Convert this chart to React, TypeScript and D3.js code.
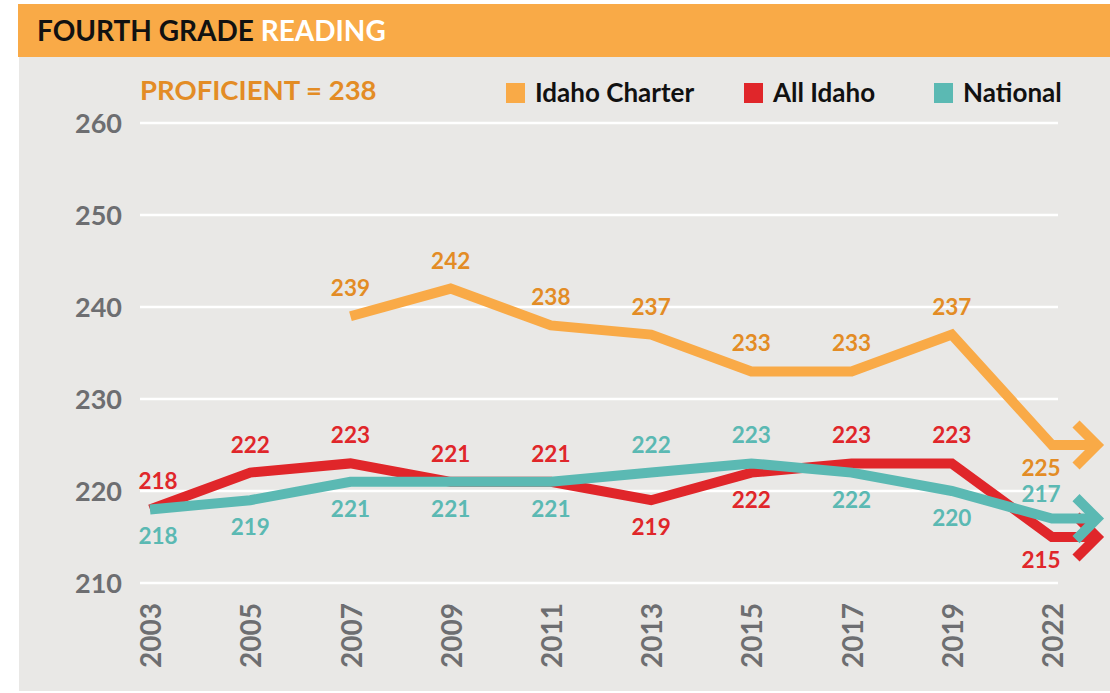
import React from "react";
import * as d3 from "d3";

const years = ["2003", "2005", "2007", "2009", "2011", "2013", "2015", "2017", "2019", "2022"];
const yTicks = [210, 220, 230, 240, 250, 260];

const charterValues: (number | null)[] = [null, null, 239, 242, 238, 237, 233, 233, 237, 225];
const allIdahoValues: number[] = [218, 222, 223, 221, 221, 219, 222, 223, 223, 215];
const nationalValues: number[] = [218, 219, 221, 221, 221, 222, 223, 222, 220, 217];

// label placement: 1 = above the line, -1 = below
const charterPlace = [1, 1, 1, 1, 1, 1, 1, 1, 1, -1];
const allIdahoPlace = [1, 1, 1, 1, 1, -1, -1, 1, 1, -1];
const nationalPlace = [-1, -1, -1, -1, -1, 1, 1, -1, -1, 1];

const seriesNames = ["Idaho Charter", "All Idaho", "National"];

const W = 1110;
const H = 693;
const FONT = "Lato, 'Open Sans', sans-serif";

const C_ORANGE = "#f9aa47";
const C_ORANGE_TEXT = "#e38c25";
const C_RED = "#e0262a";
const C_TEAL = "#5bb9b3";
const C_GRAY = "#6d6e71";
const C_BG = "#e9e8e6";

export default function App() {
  const x = d3.scalePoint<string>().domain(years).range([150, 1052]);
  const y = d3.scaleLinear().domain([210, 260]).range([583, 123]);

  const series = [
    { name: seriesNames[0], values: charterValues, place: charterPlace, line: C_ORANGE, text: C_ORANGE_TEXT },
    { name: seriesNames[1], values: allIdahoValues as (number | null)[], place: allIdahoPlace, line: C_RED, text: C_RED },
    { name: seriesNames[2], values: nationalValues as (number | null)[], place: nationalPlace, line: C_TEAL, text: C_TEAL },
  ];

  const lineGen = d3
    .line<[number, number]>()
    .x((d) => d[0])
    .y((d) => d[1]);

  const arrowLen = 45;
  const arm = 21;

  const legendItems = [
    { label: seriesNames[0], color: C_ORANGE, x: 506 },
    { label: seriesNames[1], color: C_RED, x: 744 },
    { label: seriesNames[2], color: C_TEAL, x: 934 },
  ];

  return (
    <svg
      width={W}
      height={H}
      style={{ position: "absolute", left: 0, top: 0, display: "block" }}
      fontFamily={FONT}
    >
      <rect x={0} y={0} width={W} height={H} fill="#ffffff" />
      <rect x={19} y={57} width={W - 19} height={634} fill={C_BG} />
      <rect x={18} y={4} width={W - 18} height={53} fill={C_ORANGE} />
      <text x={37} y={41} fontSize={28} fontWeight={700} fill="#111111">
        FOURTH GRADE <tspan fill="#ffffff">READING</tspan>
      </text>

      <text x={140} y={100} fontSize={27.5} fontWeight={700} fill={C_ORANGE_TEXT}>
        PROFICIENT = 238
      </text>

      {legendItems.map((l) => (
        <g key={l.label}>
          <rect x={l.x} y={83} width={19} height={20} fill={l.color} />
          <text x={l.x + 29} y={102} fontSize={26} fontWeight={700} fill="#111111">
            {l.label}
          </text>
        </g>
      ))}

      {yTicks.map((t) => (
        <g key={t}>
          <line x1={140} x2={1058} y1={y(t)} y2={y(t)} stroke="#ffffff" strokeWidth={2.5} />
          <text x={122} y={y(t) + 10} textAnchor="end" fontSize={27} fontWeight={700} fill={C_GRAY}>
            {t}
          </text>
        </g>
      ))}

      {years.map((yr) => (
        <text
          key={yr}
          transform={`translate(${x(yr)! + 1},603) rotate(-90)`}
          textAnchor="end"
          dy="0.36em"
          fontSize={28}
          fontWeight={700}
          fill={C_GRAY}
        >
          {yr}
        </text>
      ))}

      {series.map((s) => {
        const pts: [number, number][] = [];
        s.values.forEach((v, i) => {
          if (v != null) pts.push([x(years[i])!, y(v)]);
        });
        const last = pts[pts.length - 1];
        const tip: [number, number] = [last[0] + arrowLen, last[1]];
        const path = lineGen([...pts, tip]) || "";
        const chevron =
          lineGen([
            [tip[0] - arm, tip[1] - arm],
            [tip[0], tip[1]],
            [tip[0] - arm, tip[1] + arm],
          ]) || "";
        return (
          <g key={s.name}>
            <path d={path} fill="none" stroke={s.line} strokeWidth={10} strokeLinejoin="miter" />
            <path d={chevron} fill="none" stroke={s.line} strokeWidth={10} strokeLinejoin="miter" />
          </g>
        );
      })}

      {series.map((s) =>
        s.values.map((v, i) => {
          if (v == null) return null;
          const px = x(years[i])!;
          const isLast = i === years.length - 1;
          const dx = i === 0 ? 8 : isLast ? -11 : 0;
          const above = s.place[i] > 0;
          const off = above ? (isLast ? -17 : -20) : isLast ? 31 : 35;
          return (
            <text
              key={s.name + i}
              x={px + dx}
              y={y(v) + off}
              textAnchor="middle"
              fontSize={22.5}
              fontWeight={700}
              fill={s.text}
            >
              {v}
            </text>
          );
        })
      )}
    </svg>
  );
}
